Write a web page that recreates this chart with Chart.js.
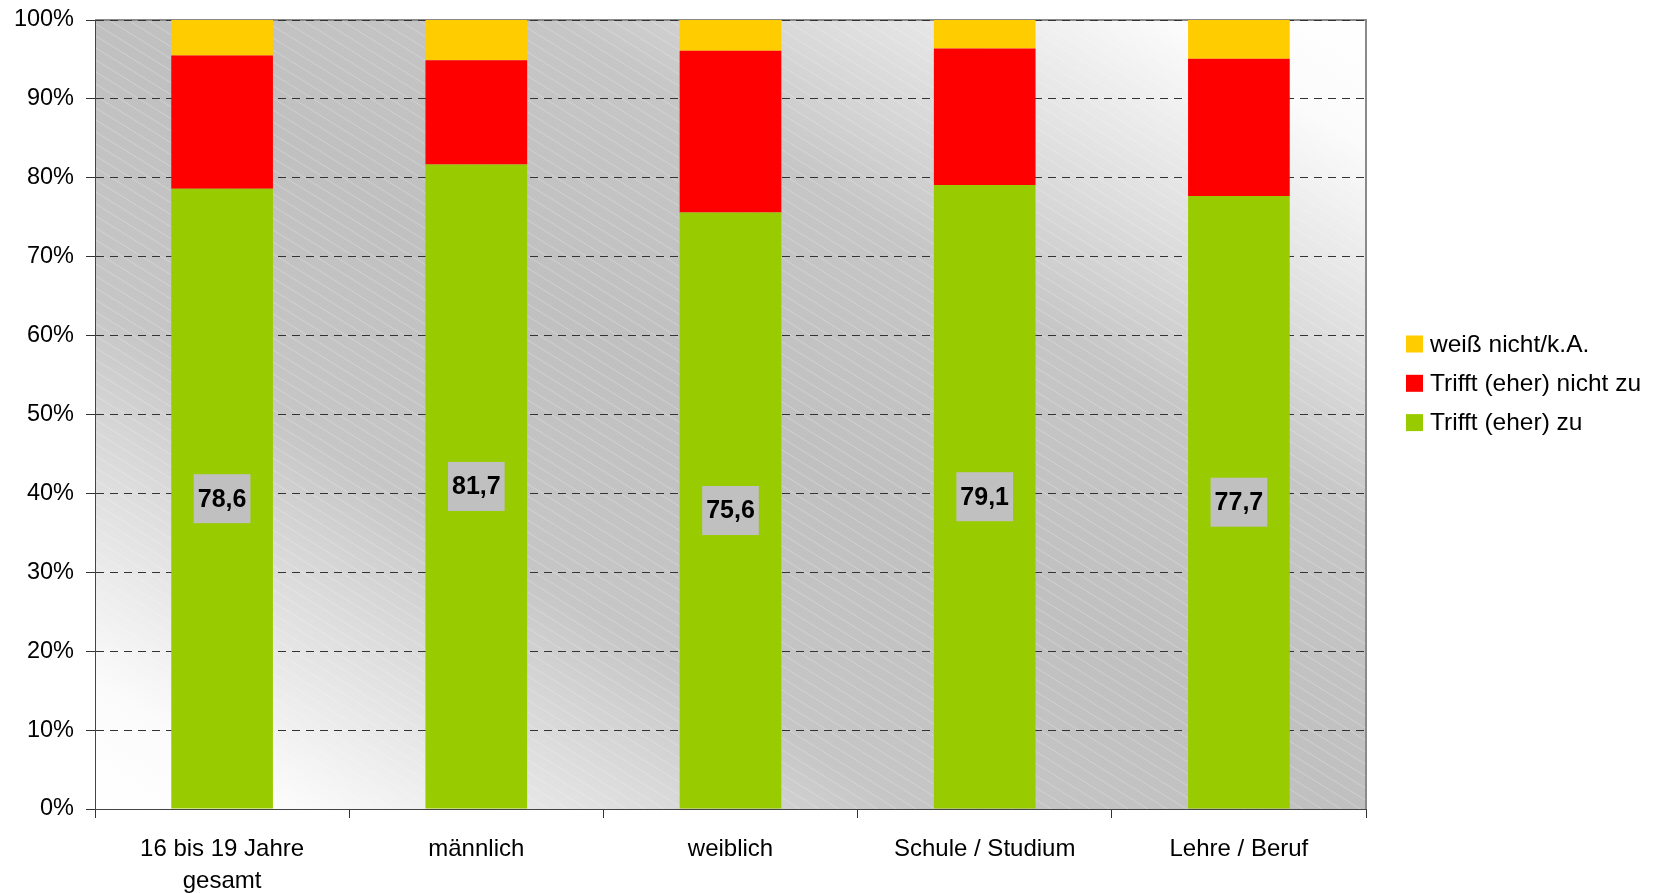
<!DOCTYPE html>
<html lang="de">
<head>
<meta charset="utf-8">
<title>Trifft (eher) zu</title>
<script src="https://cdn.jsdelivr.net/npm/chart.js@4.4.1/dist/chart.umd.min.js"></script>
<style>
    html, body { margin: 0; padding: 0; background: #fff; }
    canvas { display: block; }
</style>
</head>
<body>
<canvas id="chart" width="1657" height="893"></canvas>
<script>
// Data
const categories = [['16 bis 19 Jahre', 'gesamt'], 'männlich', 'weiblich', 'Schule / Studium', 'Lehre / Beruf'];
const zuValues = [78.6, 81.7, 75.6, 79.1, 77.7];
const nichtZuValues = [16.9, 13.2, 20.5, 17.3, 17.4];
const weissNichtValues = [4.5, 5.1, 3.9, 3.6, 4.9];
const seriesLabels = ['Trifft (eher) zu', 'Trifft (eher) nicht zu', 'weiß nicht/k.A.'];
const yTicks = [0, 10, 20, 30, 40, 50, 60, 70, 80, 90, 100];

const FONT = '"Liberation Sans", Arial, Helvetica, sans-serif';
Chart.defaults.font.family = FONT;
Chart.defaults.color = '#000';

// Plot area: diagonal grey band with light hatching, grey frame on top/right
const plotBackground = {
    id: 'plotBackground',
    beforeDraw(chart) {
        const { ctx, chartArea: a } = chart;
        ctx.save();
        ctx.translate(a.left, a.top);
        ctx.scale(a.width, a.height);
        const g = ctx.createLinearGradient(0, 1, 1, 0);
        g.addColorStop(0, '#ffffff');
        g.addColorStop(0.08, '#fbfbfb');
        g.addColorStop(0.32, '#c6c6c6');
        g.addColorStop(0.5, '#c0c0c0');
        g.addColorStop(0.68, '#c6c6c6');
        g.addColorStop(0.92, '#fbfbfb');
        g.addColorStop(1, '#ffffff');
        ctx.fillStyle = g;
        ctx.fillRect(0, 0, 1, 1);
        ctx.restore();

        // hatch lines parallel to the diagonal
        ctx.save();
        ctx.beginPath();
        ctx.rect(a.left, a.top, a.width, a.height);
        ctx.clip();
        ctx.strokeStyle = 'rgba(255,255,255,0.25)';
        ctx.lineWidth = 1;
        ctx.beginPath();
        for (let o = -a.height; o <= a.height; o += 12) {
            ctx.moveTo(a.left, a.top + o + 0.5);
            ctx.lineTo(a.right, a.top + o + a.height + 0.5);
        }
        ctx.stroke();
        ctx.restore();

        ctx.save();
        ctx.strokeStyle = '#8a8a8a';
        ctx.lineWidth = 2;
        ctx.beginPath();
        ctx.moveTo(a.left, a.top);
        ctx.lineTo(a.right, a.top);
        ctx.lineTo(a.right, a.bottom);
        ctx.stroke();
        ctx.restore();
    }
};

// Value labels in the middle of the green bars
const valueLabels = {
    id: 'valueLabels',
    afterDatasetsDraw(chart) {
        const { ctx } = chart;
        const meta = chart.getDatasetMeta(0);
        ctx.save();
        ctx.font = 'bold 25px ' + FONT;
        ctx.textAlign = 'center';
        ctx.textBaseline = 'middle';
        meta.data.forEach((bar, i) => {
            const text = zuValues[i].toFixed(1).replace('.', ',');
            const w = ctx.measureText(text).width + 8;
            const h = 49;
            const cy = (bar.y + bar.base) / 2;
            ctx.fillStyle = '#c0c0c0';
            ctx.fillRect(bar.x - w / 2, cy - h / 2, w, h);
            ctx.fillStyle = '#000';
            ctx.fillText(text, bar.x, cy + 1);
        });
        ctx.restore();
    }
};

// Legend on the right, top series first
const sideLegend = {
    id: 'sideLegend',
    afterDraw(chart, args, opts) {
        const { ctx } = chart;
        const sets = chart.data.datasets.slice().reverse();
        ctx.save();
        ctx.font = opts.fontSize + 'px ' + FONT;
        ctx.textBaseline = 'middle';
        ctx.textAlign = 'left';
        sets.forEach((ds, i) => {
            const cy = opts.y + i * opts.spacing;
            ctx.fillStyle = ds.backgroundColor;
            ctx.fillRect(opts.x, cy - opts.box / 2, opts.box, opts.box);
            ctx.fillStyle = '#000';
            ctx.fillText(ds.label, opts.x + opts.box + 7, cy + 1);
        });
        ctx.restore();
    }
};

new Chart(document.getElementById('chart'), {
    type: 'bar',
    data: {
        labels: categories,
        datasets: [
            { label: seriesLabels[0], data: zuValues, backgroundColor: '#99cc00' },
            { label: seriesLabels[1], data: nichtZuValues, backgroundColor: '#ff0000' },
            { label: seriesLabels[2], data: weissNichtValues, backgroundColor: '#ffcc00' }
        ]
    },
    options: {
        responsive: false,
        animation: false,
        layout: { padding: { top: 20, right: 291, bottom: 0, left: 0 } },
        datasets: {
            bar: { categoryPercentage: 1, barPercentage: 0.4, borderWidth: 0 }
        },
        plugins: {
            legend: { display: false },
            tooltip: { enabled: false },
            sideLegend: { x: 1406, y: 344, spacing: 39.3, box: 17, fontSize: 24.5 }
        },
        scales: {
            x: {
                stacked: true,
                grid: {
                    display: true,
                    drawOnChartArea: false,
                    drawTicks: true,
                    tickLength: 9,
                    offset: true,
                    tickColor: '#333'
                },
                border: { display: true, color: '#444', width: 1 },
                ticks: {
                    font: { size: 24, lineHeight: 1.35 },
                    color: '#000',
                    padding: 15,
                    maxRotation: 0
                },
                afterFit(scale) { scale.height = 84; }
            },
            y: {
                stacked: true,
                min: 0,
                max: 100,
                afterBuildTicks(scale) {
                    scale.ticks = yTicks.map(v => ({ value: v }));
                },
                ticks: {
                    font: { size: 23.5 },
                    color: '#000',
                    padding: 12,
                    callback: v => v + '%'
                },
                grid: {
                    color: '#333',
                    lineWidth: 1,
                    tickLength: 9,
                    tickColor: '#333',
                    tickBorderDash: []
                },
                border: { display: true, color: '#444', width: 1, dash: [8, 6] },
                afterFit(scale) {
                    scale.width = 95;
                    scale.paddingTop = 0;
                    scale.paddingBottom = 0;
                }
            }
        }
    },
    plugins: [plotBackground, valueLabels, sideLegend]
});
</script>
</body>
</html>
